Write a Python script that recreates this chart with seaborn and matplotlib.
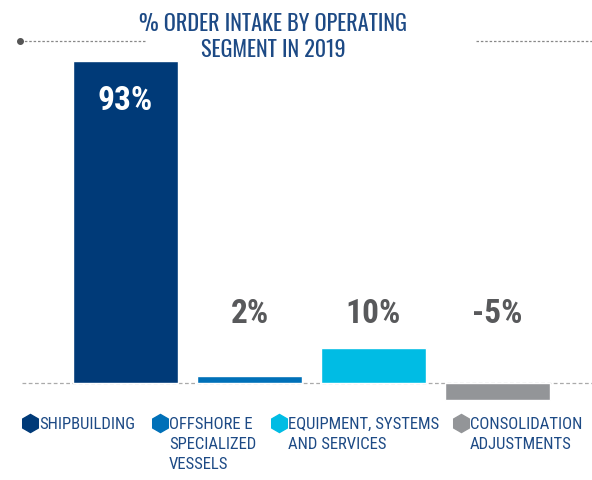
import matplotlib
matplotlib.use("Agg")
import matplotlib.pyplot as plt
from matplotlib.lines import Line2D
from matplotlib import font_manager
import seaborn as sns
import pandas as pd

segments = ["SHIPBUILDING", "OFFSHORE E\nSPECIALIZED\nVESSELS",
            "EQUIPMENT, SYSTEMS\nAND SERVICES", "CONSOLIDATION\nADJUSTMENTS"]
shares = [93, 2, 10, -5]
share_labels = ["93%", "2%", "10%", "-5%"]
colors = ["#003a78", "#0070b8", "#00bce4", "#939598"]
title = "% ORDER INTAKE BY OPERATING\nSEGMENT IN 2019"

installed = {f.name for f in font_manager.fontManager.ttflist}


def first_font(cands):
    return next((n for n in cands if n in installed), "DejaVu Sans")


condensed = first_font(["Roboto Condensed", "Barlow Condensed", "Archivo Narrow"])
narrow = first_font(["Oswald", "Antonio", "Pathway Gothic One", "Fjalla One",
                     "Barlow Condensed", "Roboto Condensed"])

sns.set_style("white")
plt.rcParams["font.family"] = [condensed, "DejaVu Sans"]

W, H = 592, 481
fig = plt.figure(figsize=(W / 100, H / 100), dpi=100)


def fx(px):
    return px / W


def fy(py):
    return 1 - py / H


# plot area covers pixel rows 30..410 and columns 22..592
ax = fig.add_axes([fx(22), fy(410), fx(570), (410 - 30) / H])
df = pd.DataFrame({"segment": segments, "share": shares})
sns.barplot(data=df, x="segment", y="share", hue="segment", palette=colors,
            width=0.847, legend=False, saturation=1, ax=ax)
ax.set_xlim(-0.835, 3.762)
px_per_unit = 322 / 93
ax.set_ylim(-26 / px_per_unit, 354 / px_per_unit)
ax.axis("off")

ax.axhline(0, color="#aaaaaa", lw=0.9, ls=(0, (3, 2)), zorder=0)

# value labels
for i, (v, lab) in enumerate(zip(shares, share_labels)):
    if i == 0:
        ax.text(i, v - 11.3, lab, ha="center", va="center", color="white",
                fontsize=24, fontweight="bold")
    else:
        ax.text(i, 20.3, lab, ha="center", va="center", color="#58595b",
                fontsize=24, fontweight="bold")

# title with dotted rules on either side
fig.text(fx(273), fy(37), title, ha="center", va="center", color="#1d4a85",
         fontsize=16, linespacing=1.2, fontweight="light",
         family=[narrow, "DejaVu Sans"])
fig.add_artist(Line2D([fx(20), fx(145)], [fy(42), fy(42)], color="#888888",
                      lw=0.9, ls=(0, (2, 1.5))))
fig.add_artist(Line2D([fx(20)], [fy(42)], marker="o", ms=4, color="#555555"))
fig.add_artist(Line2D([fx(476), fx(592)], [fy(42), fy(42)], color="#888888",
                      lw=0.9, ls=(0, (2, 1.5))))

# legend entries
marker_x = [30, 160, 279, 461]
for mx, seg, c in zip(marker_x, segments, colors):
    fig.add_artist(Line2D([fx(mx)], [fy(424)], marker="h", ms=13, color=c,
                          lw=0))
    fig.text(fx(mx + 9), fy(417), seg, ha="left", va="top", color="#1d4a85",
             fontsize=12, linespacing=1.4)

fig.savefig("out.png", dpi=100)
